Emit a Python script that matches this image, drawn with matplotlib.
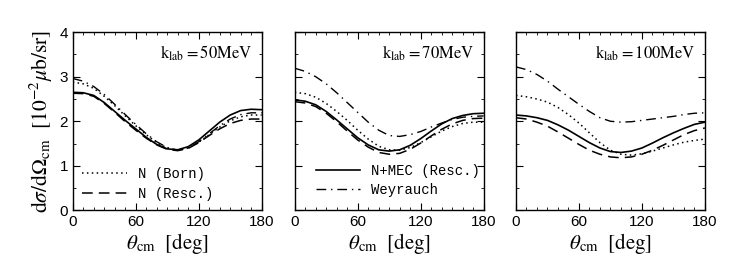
import numpy as np
import matplotlib
matplotlib.use('Agg')
import matplotlib.pyplot as plt
from matplotlib.ticker import MultipleLocator

plt.rcParams['mathtext.fontset'] = 'stix'
plt.rcParams['font.family'] = ['Liberation Sans', 'DejaVu Sans']

# angles in deg
theta = [0, 10, 20, 30, 40, 50, 60, 70, 80, 90, 100, 110, 120, 130, 140, 150, 160, 170, 180]

# k_lab = 50 MeV
born_50 = [2.88, 2.84, 2.74, 2.56, 2.35, 2.12, 1.90, 1.70, 1.52, 1.40, 1.35, 1.40, 1.53, 1.70, 1.87, 2.01, 2.10, 2.14, 2.14]
resc_50 = [2.63, 2.62, 2.56, 2.40, 2.20, 1.99, 1.80, 1.62, 1.47, 1.37, 1.34, 1.39, 1.52, 1.68, 1.83, 1.95, 2.02, 2.05, 2.05]
mec_50 = [2.65, 2.64, 2.58, 2.42, 2.22, 2.02, 1.83, 1.64, 1.48, 1.38, 1.36, 1.43, 1.58, 1.78, 1.98, 2.14, 2.24, 2.27, 2.26]
wey_50 = [2.96, 2.90, 2.78, 2.60, 2.38, 2.15, 1.93, 1.72, 1.54, 1.41, 1.35, 1.40, 1.54, 1.72, 1.90, 2.05, 2.15, 2.19, 2.19]

# k_lab = 70 MeV
born_70 = [2.65, 2.62, 2.54, 2.40, 2.22, 2.02, 1.80, 1.60, 1.44, 1.36, 1.35, 1.41, 1.52, 1.65, 1.78, 1.88, 1.95, 1.98, 1.98]
resc_70 = [2.44, 2.41, 2.33, 2.18, 1.99, 1.78, 1.58, 1.42, 1.30, 1.26, 1.28, 1.37, 1.51, 1.67, 1.82, 1.94, 2.02, 2.06, 2.07]
mec_70 = [2.48, 2.45, 2.37, 2.22, 2.03, 1.83, 1.63, 1.47, 1.36, 1.33, 1.36, 1.46, 1.61, 1.78, 1.94, 2.06, 2.13, 2.17, 2.18]
wey_70 = [3.19, 3.12, 3.00, 2.84, 2.64, 2.42, 2.20, 1.98, 1.80, 1.68, 1.66, 1.70, 1.77, 1.87, 1.96, 2.04, 2.09, 2.11, 2.12]

# k_lab = 100 MeV
born_100 = [2.58, 2.55, 2.50, 2.43, 2.31, 2.15, 1.96, 1.74, 1.52, 1.35, 1.26, 1.24, 1.27, 1.33, 1.40, 1.47, 1.53, 1.57, 1.60]
resc_100 = [2.08, 2.05, 1.98, 1.89, 1.76, 1.62, 1.48, 1.35, 1.26, 1.20, 1.18, 1.20, 1.26, 1.35, 1.46, 1.58, 1.70, 1.79, 1.85]
mec_100 = [2.14, 2.12, 2.08, 2.02, 1.92, 1.80, 1.66, 1.52, 1.40, 1.32, 1.30, 1.33, 1.40, 1.51, 1.63, 1.74, 1.84, 1.93, 1.98]
wey_100 = [3.22, 3.16, 3.05, 2.90, 2.72, 2.55, 2.38, 2.22, 2.08, 2.00, 1.98, 1.99, 2.02, 2.05, 2.08, 2.11, 2.15, 2.18, 2.19]

energies = ['50', '70', '100']
born = [born_50, born_70, born_100]
resc = [resc_50, resc_70, resc_100]
mec = [mec_50, mec_70, mec_100]
wey = [wey_50, wey_70, wey_100]

fig = plt.figure(figsize=(7.35, 2.68), dpi=100)
lefts = [0.099, 0.401, 0.702]
axes = []
for i in range(3):
    ax = fig.add_axes([lefts[i], 0.215, 0.257, 0.665])
    axes.append(ax)
    lb, = ax.plot(theta, born[i], color='k', lw=1.1, ls=(0, (1, 2.2)))
    lr, = ax.plot(theta, resc[i], color='k', lw=1.1, ls=(0, (7, 4)))
    lm, = ax.plot(theta, mec[i], color='k', lw=1.2, ls='-')
    lw, = ax.plot(theta, wey[i], color='k', lw=1.0, ls=(0, (7, 3.5, 1, 3.5)))
    ax.set_xlim(0, 180)
    ax.set_ylim(0, 4)
    ax.xaxis.set_major_locator(MultipleLocator(60))
    ax.xaxis.set_minor_locator(MultipleLocator(10))
    ax.yaxis.set_major_locator(MultipleLocator(1))
    ax.yaxis.set_minor_locator(MultipleLocator(0.5))
    ax.tick_params(which='both', direction='in', top=True, right=True, labelsize=11)
    ax.tick_params(which='major', length=5)
    ax.tick_params(which='minor', length=2.5)
    if i > 0:
        ax.set_yticklabels([])
    ax.set_xlabel(r'$\theta_{\rm cm}\ \ [\rm deg]$', fontsize=15, labelpad=1)
    ax.text(0.95, 0.88, r'$\mathrm{k}_{\rm lab}\mathrm{=%sMeV}$' % energies[i],
            transform=ax.transAxes, ha='right', va='center', fontsize=12)
    for s in ax.spines.values():
        s.set_linewidth(1.0)
    if i == 0:
        ax.legend([lb, lr], ['N (Born)', 'N (Resc.)'], loc='lower left',
                  frameon=False, handlelength=3.2, borderaxespad=0.3,
                  labelspacing=0.4, prop={'family': 'Liberation Mono', 'size': 10})
    if i == 1:
        ax.legend([lm, lw], ['N+MEC (Resc.)', 'Weyrauch'], loc='lower left',
                  bbox_to_anchor=(0.06, 0.02), frameon=False, handlelength=3.2,
                  borderaxespad=0.3, labelspacing=0.4,
                  prop={'family': 'Liberation Mono', 'size': 10})

axes[0].set_ylabel(r'$\mathrm{d}\sigma/\mathrm{d}\Omega_{\rm cm}\ \ [10^{-2}\mu\mathrm{b/sr}]$',
                   fontsize=15.5, labelpad=3)

fig.savefig('out.png', dpi=100)
